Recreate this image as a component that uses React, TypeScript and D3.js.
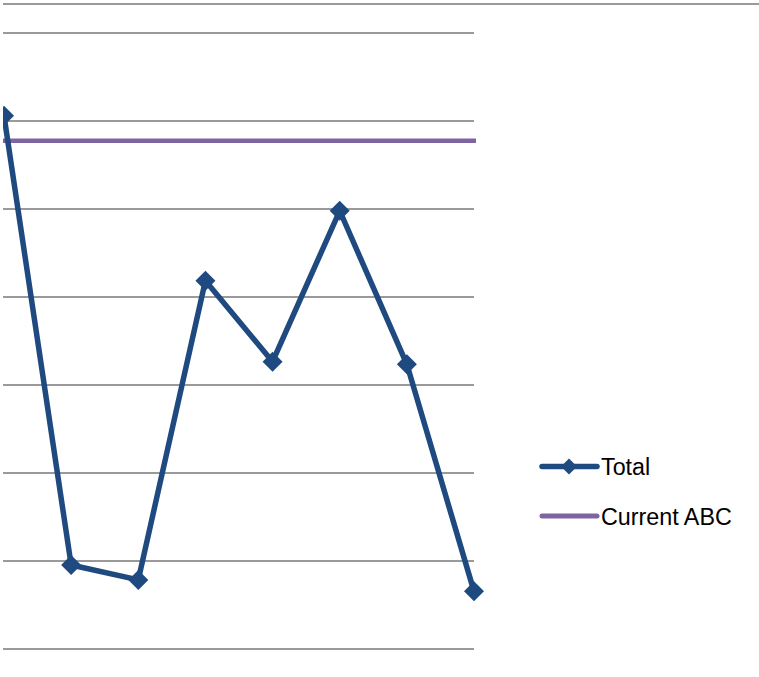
import React from "react";
import * as d3 from "d3";

const categories = ["1", "2", "3", "4", "5", "6", "7", "8"];
const totalValues = [6.06, 0.955, 0.785, 4.185, 3.265, 4.98, 3.235, 0.655];
const currentABC = 5.776;
const gridTicks = [0, 1, 2, 3, 4, 5, 6, 7];
const legendLabels = ["Total", "Current ABC"];

const W = 759;
const H = 677;
const BLUE = "#1F4A80";
const PURPLE = "#8064A2";
const GRID = "#9A9A9A";

function diamond(cx: number, cy: number, r: number) {
  return `M${cx},${cy - r}L${cx + r},${cy}L${cx},${cy + r}L${cx - r},${cy}Z`;
}

export default function App() {
  const x = d3.scalePoint<string>().domain(categories).range([4, 474]);
  const y = d3.scaleLinear().domain([0, 7]).range([649, 33]);
  const line = d3
    .line<number>()
    .x((_, i) => x(categories[i]) as number)
    .y((d) => y(d));

  return (
    <svg
      width={W}
      height={H}
      style={{ position: "absolute", left: 0, top: 0, background: "#fff" }}
      fontFamily="'Liberation Sans', Arial, sans-serif"
    >
      <defs>
        <clipPath id="plotClip">
          <rect x={3} y={0} width={W - 3} height={H} />
        </clipPath>
      </defs>
      <line x1={3} x2={W} y1={4} y2={4} stroke={GRID} strokeWidth={1.8} />
      {gridTicks.map((t) => (
        <line key={t} x1={3} x2={474} y1={y(t)} y2={y(t)} stroke={GRID} strokeWidth={1.8} />
      ))}
      <g clipPath="url(#plotClip)">
        <line
          x1={3}
          x2={476}
          y1={y(currentABC)}
          y2={y(currentABC)}
          stroke={PURPLE}
          strokeWidth={4.5}
        />
        <path
          d={line(totalValues) || ""}
          fill="none"
          stroke={BLUE}
          strokeWidth={5.5}
          strokeLinejoin="round"
        />
        {totalValues.map((v, i) => (
          <path key={i} d={diamond(x(categories[i]) as number, y(v), 10)} fill={BLUE} />
        ))}
      </g>
      <g>
        <line x1={542} x2={597} y1={466.5} y2={466.5} stroke={BLUE} strokeWidth={5.5} strokeLinecap="round" />
        <path d={diamond(569, 466.5, 8)} fill={BLUE} />
        <text x={601} y={475} fontSize={23.3} fill="#000">
          {legendLabels[0]}
        </text>
        <line x1={542} x2={597} y1={516} y2={516} stroke={PURPLE} strokeWidth={5} strokeLinecap="round" />
        <text x={601} y={524.5} fontSize={23.3} fill="#000">
          {legendLabels[1]}
        </text>
      </g>
    </svg>
  );
}
